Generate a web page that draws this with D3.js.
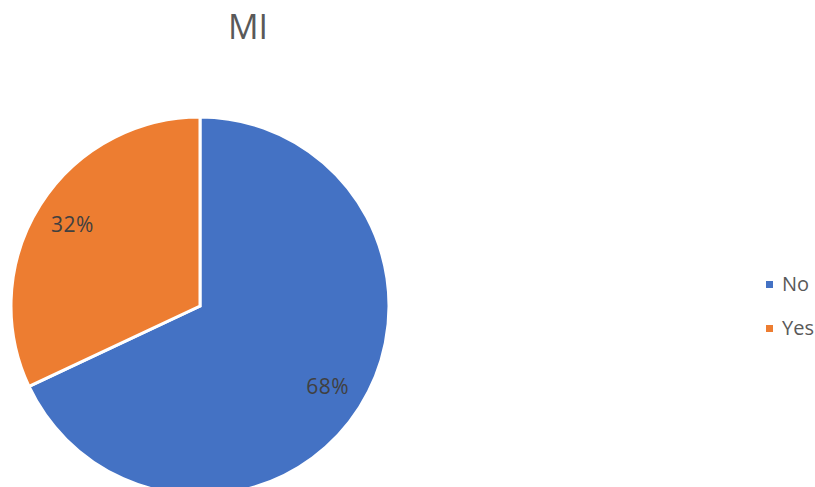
<!DOCTYPE html>
<html>
<head>
<meta charset="utf-8">
<script src="https://cdn.jsdelivr.net/npm/d3@7"></script>
<style>
  body { margin: 0; background: #fff; }
  text { font-family: "Open Sans", sans-serif; }
</style>
</head>
<body>
<div class="chart"></div>
<script>
// Data
const categories = ["No", "Yes"];
const values = [68, 32];
const colors = ["#4472C4", "#ED7D31"];
const title = "MI";

const svgWidth = 815;
const svgHeight = 487;

const svg = d3.select(".chart")
    .append("svg")
    .attr("width", svgWidth)
    .attr("height", svgHeight);

// Title
svg.append("text")
    .attr("x", 248)
    .attr("y", 39)
    .attr("text-anchor", "middle")
    .attr("font-size", "34px")
    .attr("fill", "#595959")
    .text(title);

// Pie
const cx = 200, cy = 306, radius = 189;

const pieGroup = svg.append("g")
    .attr("transform", `translate(${cx}, ${cy})`);

const pie = d3.pie().sort(null).value(d => d.value);
const arc = d3.arc().innerRadius(0).outerRadius(radius);
const labelArc = d3.arc().innerRadius(radius * 0.8).outerRadius(radius * 0.8);

const pieData = pie(categories.map((c, i) => ({ name: c, value: values[i] })));

pieGroup.selectAll("path")
    .data(pieData)
    .enter()
    .append("path")
    .attr("d", arc)
    .attr("fill", (d, i) => colors[i])
    .attr("stroke", "#fff")
    .attr("stroke-width", 3);

pieGroup.selectAll(".label")
    .data(pieData)
    .enter()
    .append("text")
    .attr("class", "label")
    .attr("transform", d => `translate(${labelArc.centroid(d)})`)
    .attr("text-anchor", "middle")
    .attr("dy", "0.35em")
    .attr("font-size", "21px")
    .attr("letter-spacing", "0.5px")
    .attr("fill", "#404040")
    .text(d => d.data.value + "%");

// Legend
const legend = svg.append("g")
    .attr("transform", "translate(766, 284)");

const item = legend.selectAll("g")
    .data(categories)
    .enter()
    .append("g")
    .attr("transform", (d, i) => `translate(0, ${i * 44})`);

item.append("rect")
    .attr("x", 0)
    .attr("y", -3)
    .attr("width", 7)
    .attr("height", 7)
    .attr("fill", (d, i) => colors[i]);

item.append("text")
    .attr("x", 16)
    .attr("dy", "0.35em")
    .attr("font-size", "20px")
    .attr("fill", "#595959")
    .text(d => d);
</script>
</body>
</html>
